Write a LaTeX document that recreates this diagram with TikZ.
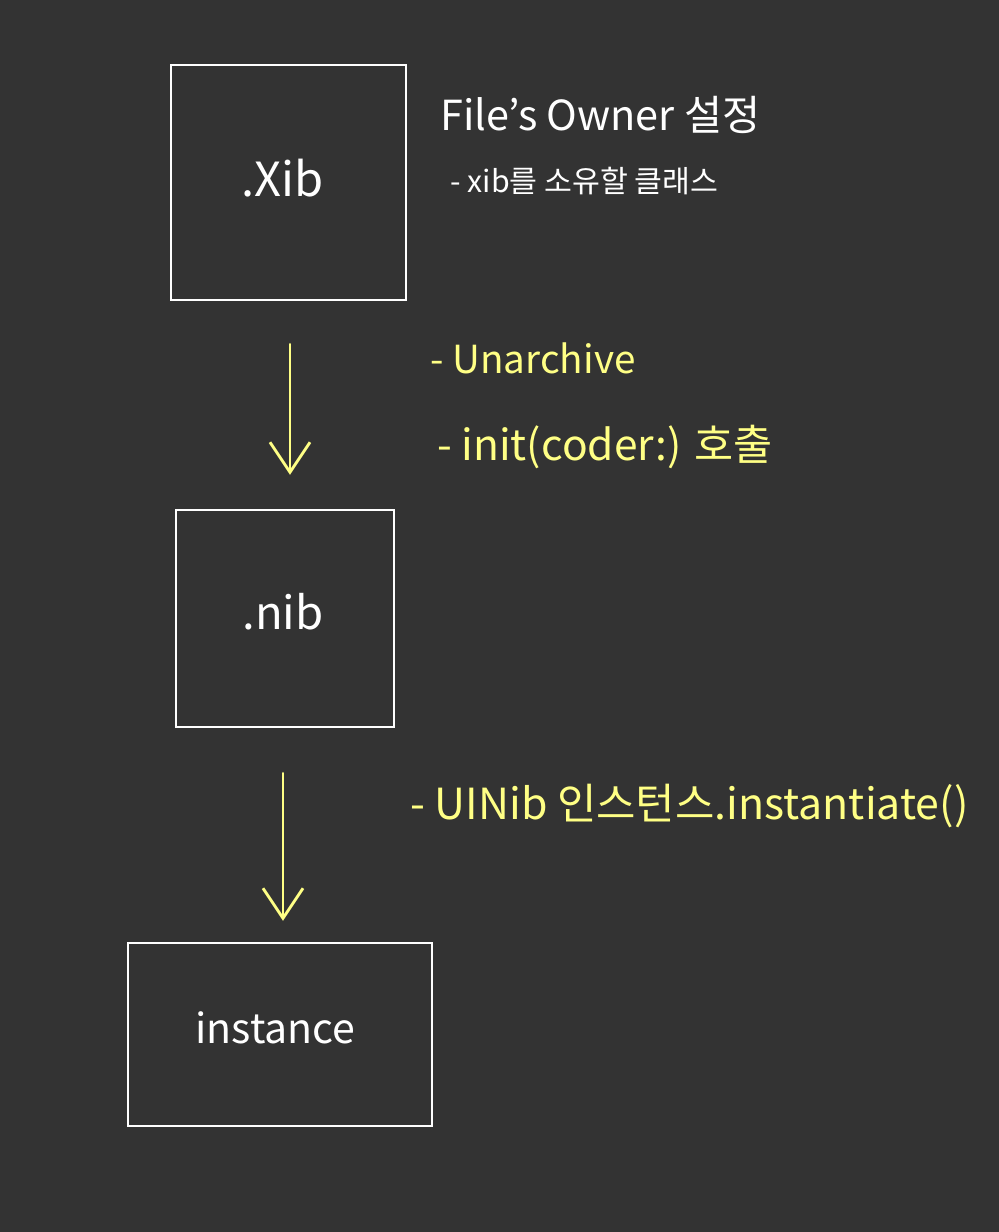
\documentclass[tikz,border=0pt]{standalone}
\usepackage{fontspec}
\setmainfont{Noto Sans CJK KR}
\usetikzlibrary{arrows.meta}
\definecolor{bg}{HTML}{333333}
\definecolor{hl}{HTML}{FFFF85}
\tikzset{
  box/.style={draw=white, line width=1.25pt, inner sep=0pt},
  lbl/.style={text=white, inner sep=0pt, anchor=west},
  ylbl/.style={text=hl, inner sep=0pt, anchor=west},
  arr/.style={draw=hl, line width=1.4pt, line cap=round, -{Straight Barb[length=15pt,width=20pt,line width=1.4pt]}},
}
\begin{document}
\begin{tikzpicture}[x=0.5pt,y=-0.5pt]
\fill[bg] (0,0) rectangle (999,1232);
\useasboundingbox (0,0) rectangle (999,1232);
\node[box, minimum width=117.5pt, minimum height=117.5pt] (xib) at (288.5,182.5) {};
\node[box, minimum width=109pt, minimum height=108.5pt] (nib) at (285,618.5) {};
\node[box, minimum width=152pt, minimum height=91.5pt] (inst) at (280,1034.5) {};
\node[lbl] (xibt) at (241,178) {\resizebox{41pt}{!}{.Xib}};
\node[lbl] (nibt) at (242,612) {\resizebox{40.5pt}{!}{.nib}};
\node[lbl] (instt) at (195,1028) {\resizebox{80pt}{!}{instance}};
\node[lbl] (t1) at (440,115) {\resizebox{160pt}{!}{File's Owner 설정}};
\node[lbl] (t2) at (450,181) {\resizebox{134pt}{!}{- xib를 소유할 클래스}};
\node[ylbl] (t3) at (430,358) {\resizebox{102.5pt}{!}{- Unarchive}};
\node[ylbl] (t4) at (437,447) {\resizebox{167.5pt}{!}{- init(coder:) 호출}};
\node[ylbl] (t5) at (410,806) {\resizebox{279pt}{!}{- UINib 인스턴스.instantiate()}};
\draw[arr, shorten <=21.5pt, shorten >=17pt] ([xshift=0.75pt]xib.south) -- ([xshift=2.5pt]nib.north);
\draw[arr, shorten <=22.5pt, shorten >=10.5pt] ([xshift=-1pt]nib.south) -- ([xshift=1.5pt]inst.north);
\end{tikzpicture}
\end{document}
